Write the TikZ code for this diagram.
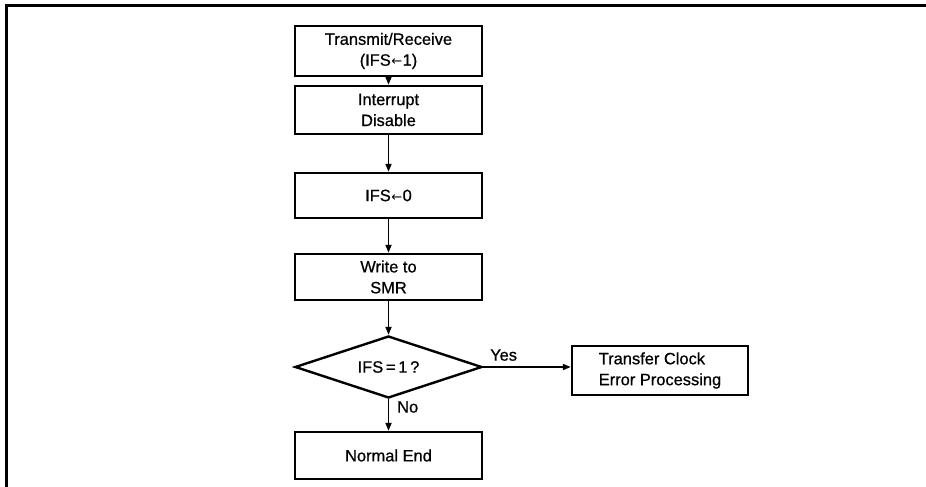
\documentclass[tikz,border=0pt]{standalone}
\usepackage{fontspec}
\setmainfont{Liberation Sans}[FakeBold=0.7]
\newfontfamily\arrfont{DejaVu Sans}
\newcommand{\myarr}{\kern0.5bp{\arrfont\fontsize{13}{13}\selectfont ←}\kern0.5bp}
\usetikzlibrary{shapes.geometric,arrows.meta}
\begin{document}
\begin{tikzpicture}[x=1bp,y=-1bp,
  box/.style={draw,line width=2.4bp,minimum width=187bp,inner sep=0pt,align=center,font=\fontsize{16.5}{21}\selectfont},
  dia/.style={draw,line width=2.4bp,diamond,aspect=3.02,minimum width=187bp,minimum height=62bp,inner sep=0pt,font=\fontsize{16.5}{21}\selectfont},
  conn/.style={line width=1.8bp,-{Triangle[length=8bp,width=6bp]}},
  lbl/.style={font=\fontsize{16.5}{21}\selectfont,inner sep=0pt}]
\useasboundingbox (0,0) rectangle (926,487);
\draw[line width=3bp] (6,487) -- (6,6) -- (926,6);
\node[box,minimum height=50bp] (b1) at (388.5,51) {Transmit/Receive\\(IFS\myarr1)};
\node[box,minimum height=48bp] (b2) at (388.5,110) {Interrupt\\Disable};
\node[box,minimum height=45bp] (b3) at (388.5,195.5) {IFS\myarr0};
\node[box,minimum height=46bp] (b4) at (388.5,277) {Write to\\SMR};
\node[dia] (d) at (388.5,367) {IFS\,=\,1\,?};
\node[box,minimum height=47bp] (b5) at (388.5,455.5) {Normal End};
\node[box,minimum width=176bp,minimum height=49bp,align=left] (e) at (660,370.5) {Transfer Clock\\Error Processing};
\draw[conn] (b1) -- (b2);
\draw[conn] (b2) -- (b3);
\draw[conn] (b3) -- (b4);
\draw[conn] (b4) -- (d);
\draw[conn] (d) -- (b5);
\draw[conn] (d.east) -- (e.west |- d.east);
\node[lbl,anchor=south west] (yes) at (490,361) {Yes};
\node[lbl,anchor=west] (no) at (397,407) {No};
\end{tikzpicture}
\end{document}
